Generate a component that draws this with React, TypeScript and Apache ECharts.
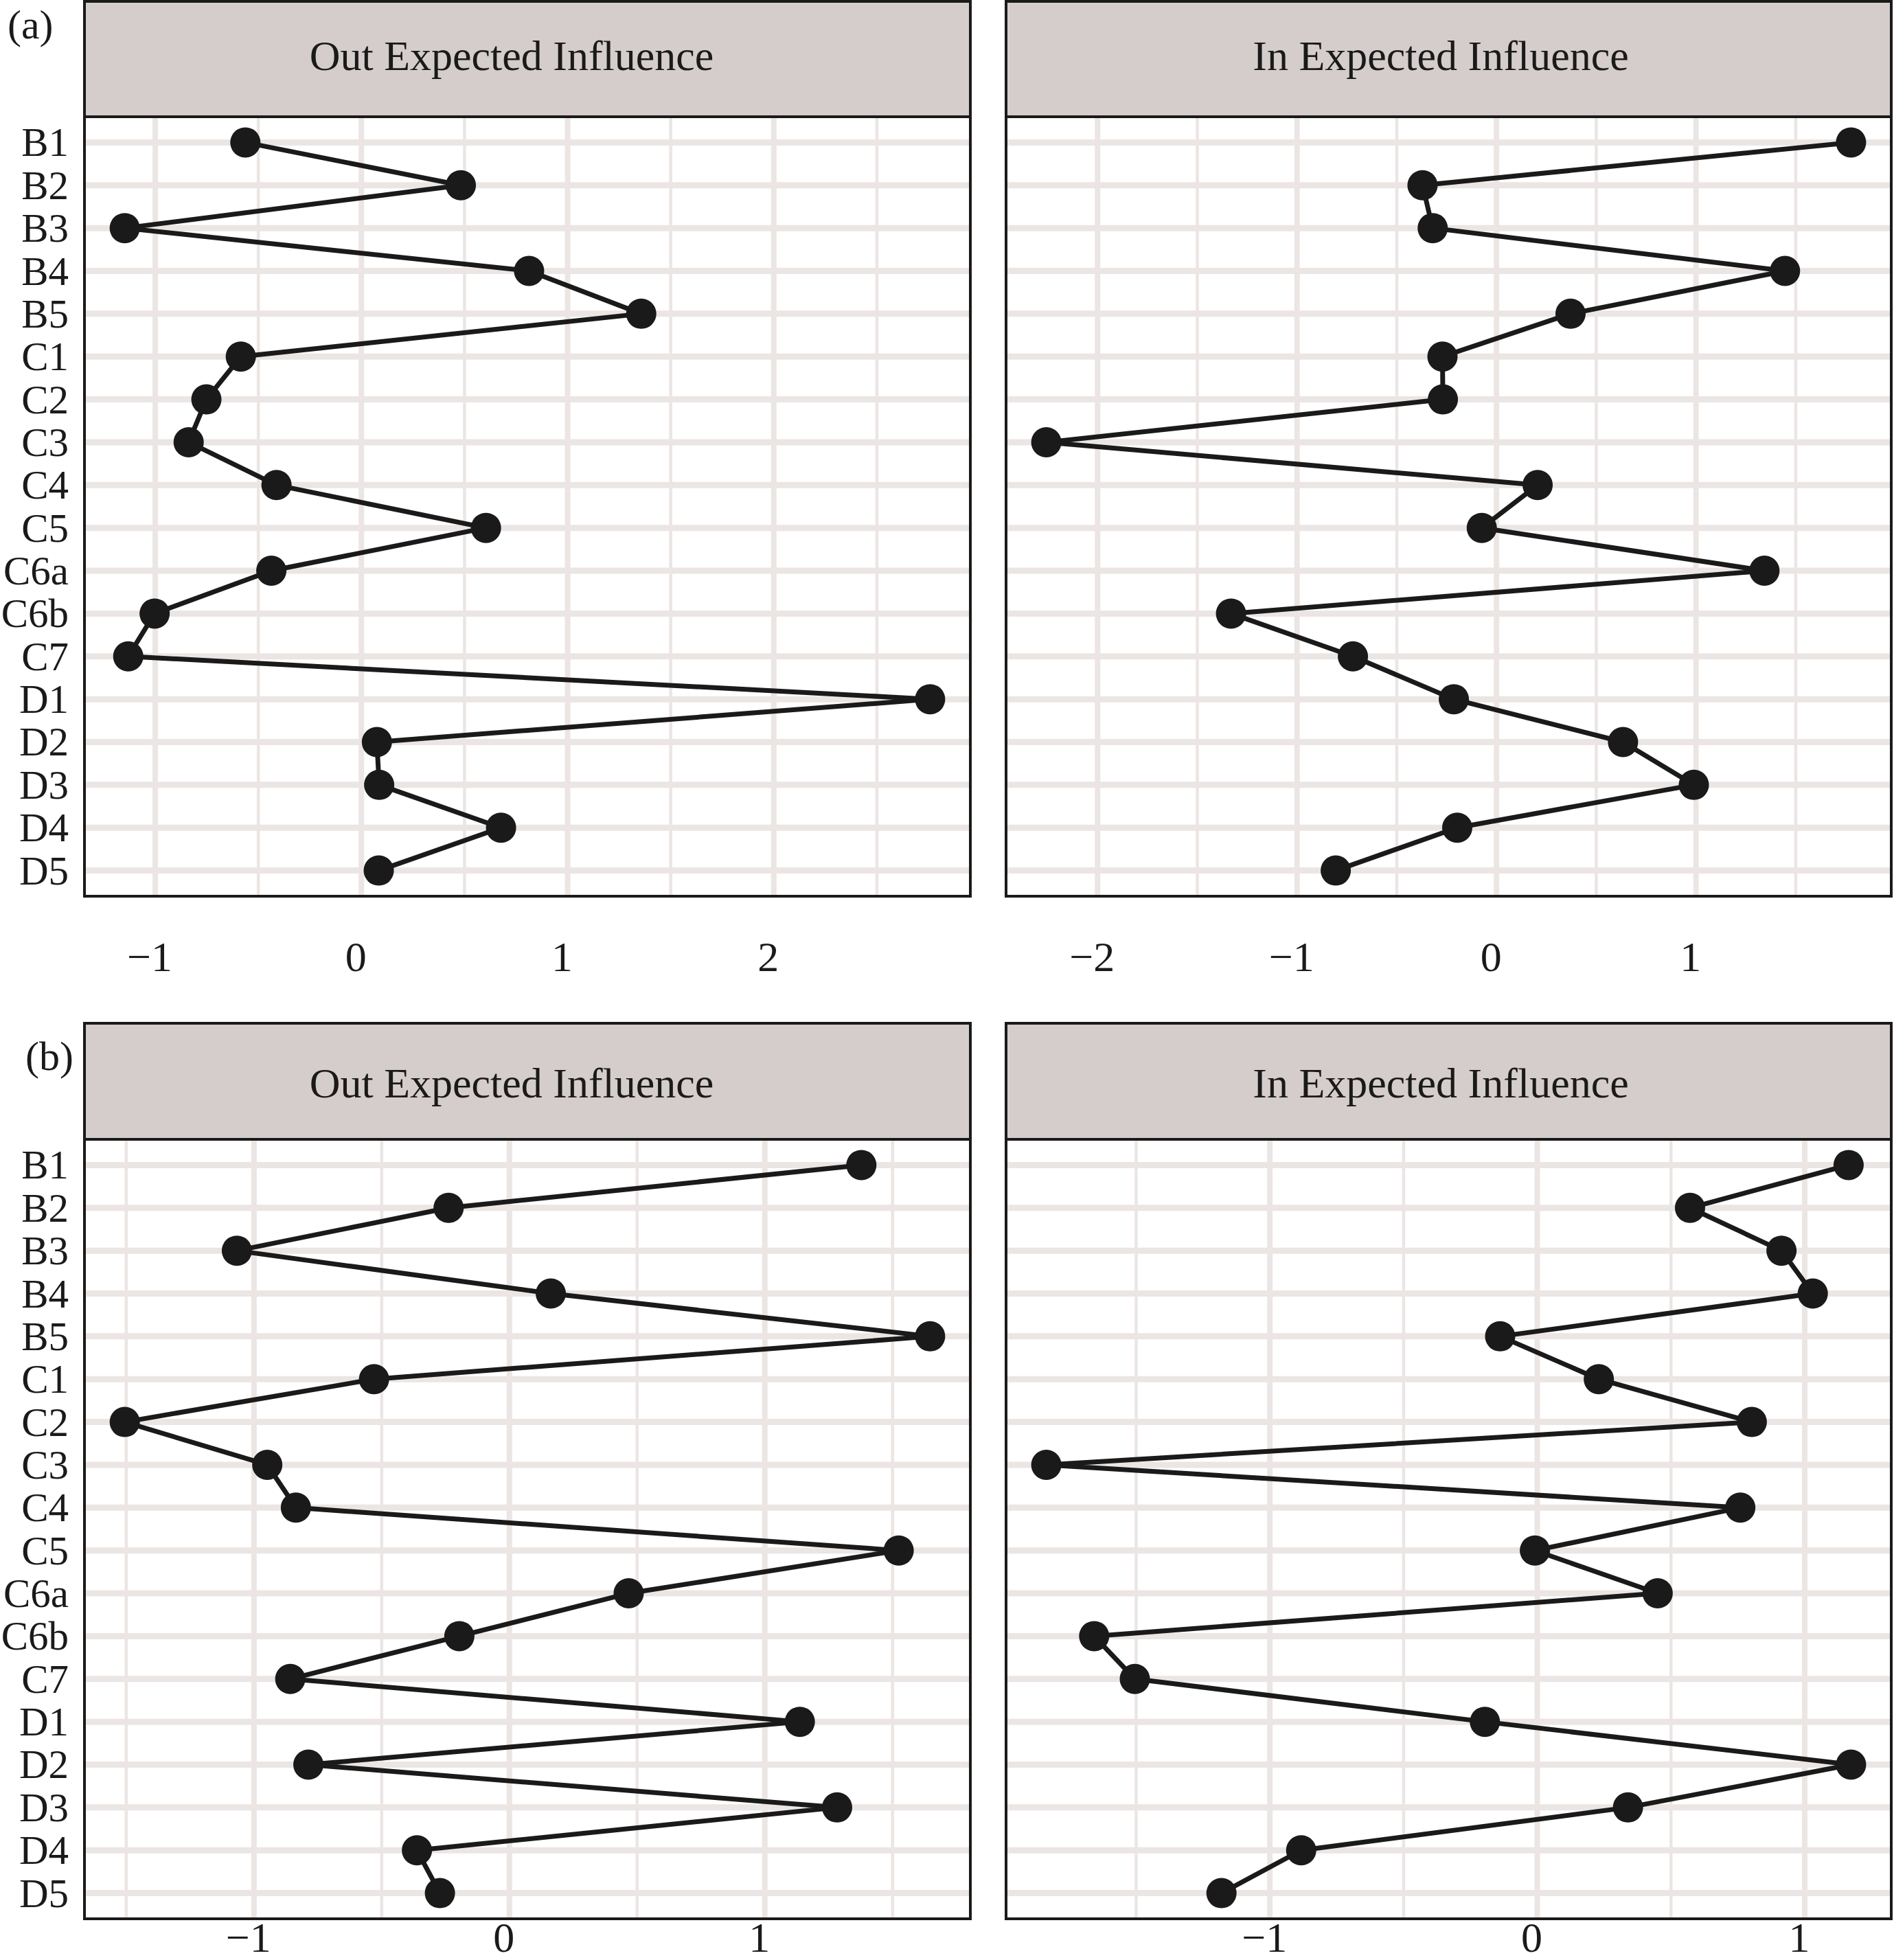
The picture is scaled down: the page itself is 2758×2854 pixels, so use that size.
import React, { useEffect, useRef } from "react";
import * as echarts from "echarts";

// ---------- data ----------
const categories = ["B1", "B2", "B3", "B4", "B5", "C1", "C2", "C3", "C4", "C5", "C6a", "C6b", "C7", "D1", "D2", "D3", "D4", "D5"];

const outExpectedA = [-0.563, 0.482, -1.148, 0.813, 1.357, -0.585, -0.752, -0.838, -0.412, 0.604, -0.437, -1.003, -1.131, 2.758, 0.075, 0.086, 0.677, 0.084];
const inExpectedA = [1.777, -0.371, -0.32, 1.446, 0.371, -0.271, -0.269, -2.257, 0.206, -0.074, 1.343, -1.331, -0.72, -0.214, 0.634, 0.989, -0.197, -0.806];
const outExpectedB = [1.378, -0.238, -1.067, 0.162, 1.647, -0.53, -1.506, -0.948, -0.836, 1.524, 0.467, -0.196, -0.858, 1.137, -0.787, 1.283, -0.362, -0.272];
const inExpectedB = [1.164, 0.571, 0.913, 1.03, -0.139, 0.23, 0.802, -1.836, 0.759, -0.009, 0.45, -1.657, -1.505, -0.196, 1.173, 0.339, -0.883, -1.181];

const ticksOutA = [-1, 0, 1, 2];
const ticksInA = [-2, -1, 0, 1];
const ticksOutB = [-1, 0, 1];
const ticksInB = [-1, 0, 1];

const minorOutA = [-0.5, 0.5, 1.5, 2.5];
const minorInA = [-1.5, -0.5, 0.5, 1.5];
const minorOutB = [-1.5, -0.5, 0.5, 1.5];
const minorInB = [-1.5, -0.5, 0.5];

const stripTitles = ["Out Expected Influence", "In Expected Influence"];
const panelTags = ["(a)", "(b)"];

// ---------- style ----------
const FONT = '"Liberation Serif", "Times New Roman", serif';
const INK = "#1a1a1a";
const GRID_COLOR = "#EBE6E3";
const STRIP_FILL = "#D5CDCB";

const W = 2758;
const H = 2854;

export default function App() {
  const ref = useRef<HTMLDivElement>(null);

  useEffect(() => {
    if (!ref.current) return;
    const chart = echarts.init(ref.current, undefined, { renderer: "svg" });

    const panels = [
      { vals: outExpectedA, ticks: ticksOutA, minor: minorOutA, left: 123, top: 170, width: 1290, labelMargin: 88, isLeft: true },
      { vals: inExpectedA, ticks: ticksInA, minor: minorInA, left: 1465, top: 170, width: 1289, labelMargin: 88, isLeft: false },
      { vals: outExpectedB, ticks: ticksOutB, minor: minorOutB, left: 123, top: 1659, width: 1290, labelMargin: 27, isLeft: true },
      { vals: inExpectedB, ticks: ticksInB, minor: minorInB, left: 1465, top: 1659, width: 1289, labelMargin: 27, isLeft: false },
    ];
    const panelH = 1135;
    const catIdx = categories.map((_, i) => i);

    const grids: any[] = [];
    const xAxes: any[] = [];
    const yAxes: any[] = [];
    const series: any[] = [];
    const graphics: any[] = [];

    panels.forEach((p, gi) => {
      const lo = Math.min(...p.vals);
      const hi = Math.max(...p.vals);
      const pad = (hi - lo) * 0.05;
      grids.push({
        left: p.left,
        top: p.top,
        width: p.width,
        height: panelH,
        containLabel: false,
        outerBoundsMode: "none",
        show: true,
        backgroundColor: "#ffffff",
        borderWidth: 0,
      });
      xAxes.push({
        type: "value",
        gridIndex: gi,
        min: lo - pad,
        max: hi + pad,
        axisLine: { show: false },
        splitLine: { show: false },
        axisTick: {
          show: true,
          inside: true,
          length: 28,
          customValues: p.ticks,
          lineStyle: { color: INK, width: 4 },
        },
        axisLabel: {
          show: true,
          customValues: p.ticks,
          formatter: (v: number) => String(v).replace("-", "\u2212"),
          fontSize: 62,
          fontFamily: FONT,
          color: INK,
          margin: p.labelMargin,
          verticalAlign: "middle",
          padding: [0, 16, 0, 0],
        },
      });
      yAxes.push({
        type: "value",
        gridIndex: gi,
        inverse: true,
        min: -0.6,
        max: categories.length - 1 + 0.6,
        axisLine: { show: false },
        splitLine: { show: false },
        axisTick: {
          show: p.isLeft,
          inside: true,
          length: 28,
          customValues: catIdx,
          lineStyle: { color: INK, width: 4 },
        },
        axisLabel: {
          show: p.isLeft,
          customValues: catIdx,
          formatter: (v: number) => categories[Math.round(v)] ?? "",
          fontSize: 59,
          fontFamily: FONT,
          color: INK,
          margin: 23,
        },
      });

      // vertical grid lines (minor + major)
      const vData = [
        ...p.minor.map((v) => [v, 0, 0]),
        ...p.ticks.map((v) => [v, 0, 1]),
      ];
      series.push({
        type: "custom",
        xAxisIndex: gi,
        yAxisIndex: gi,
        z: 1,
        silent: true,
        data: vData,
        renderItem: (params: any, api: any) => {
          const cs = params.coordSys;
          const x = api.coord([api.value(0), 0])[0];
          const major = api.value(2) === 1;
          return {
            type: "line",
            shape: { x1: x, y1: cs.y, x2: x, y2: cs.y + cs.height },
            style: { stroke: GRID_COLOR, lineWidth: major ? 8 : 4.5 },
          };
        },
      });
      // horizontal grid lines at categories
      series.push({
        type: "custom",
        xAxisIndex: gi,
        yAxisIndex: gi,
        z: 1,
        silent: true,
        data: catIdx.map((i) => [lo, i]),
        renderItem: (params: any, api: any) => {
          const cs = params.coordSys;
          const y = api.coord([api.value(0), api.value(1)])[1];
          return {
            type: "line",
            shape: { x1: cs.x, y1: y, x2: cs.x + cs.width, y2: y },
            style: { stroke: GRID_COLOR, lineWidth: 9 },
          };
        },
      });
      // data line with points
      series.push({
        type: "line",
        xAxisIndex: gi,
        yAxisIndex: gi,
        z: 5,
        clip: false,
        silent: true,
        data: p.vals.map((v, i) => [v, i]),
        symbol: "circle",
        symbolSize: 44,
        showSymbol: true,
        lineStyle: { color: INK, width: 7 },
        itemStyle: { color: INK },
      });

      // panel border
      graphics.push({
        type: "rect",
        z: 100,
        silent: true,
        shape: { x: p.left, y: p.top, width: p.width, height: panelH },
        style: { fill: "none", stroke: INK, lineWidth: 4 },
      });
    });

    // strips
    const stripTops = [2, 1490];
    const stripBottoms = [170, 1659];
    const stripLefts = [123, 1465];
    const stripWidths = [1290, 1289];
    const stripTextX = [745, 2098];
    const stripTextY = [81, 1577];
    stripTops.forEach((t, r) => {
      stripLefts.forEach((l, c) => {
        graphics.push({
          type: "rect",
          z: 90,
          silent: true,
          shape: { x: l, y: t, width: stripWidths[c], height: stripBottoms[r] - t },
          style: { fill: STRIP_FILL, stroke: INK, lineWidth: 4 },
        });
        graphics.push({
          type: "text",
          z: 95,
          silent: true,
          x: stripTextX[c],
          y: stripTextY[r],
          style: {
            text: stripTitles[c],
            fontSize: 62,
            fontFamily: FONT,
            fill: INK,
            align: "center",
            verticalAlign: "middle",
          },
        });
      });
    });

    // panel tags
    const tagX = [11, 37];
    const tagY = [36, 1538];
    panelTags.forEach((tag, r) => {
      graphics.push({
        type: "text",
        z: 95,
        silent: true,
        x: tagX[r],
        y: tagY[r],
        style: {
          text: tag,
          fontSize: 60,
          fontFamily: FONT,
          fill: INK,
          align: "left",
          verticalAlign: "middle",
        },
      });
    });

    chart.setOption({
      animation: false,
      backgroundColor: "#ffffff",
      grid: grids,
      xAxis: xAxes,
      yAxis: yAxes,
      series,
      graphic: { elements: graphics },
    });

    return () => chart.dispose();
  }, []);

  return (
    <div
      ref={ref}
      style={{ position: "absolute", left: 0, top: 0, width: W, height: H }}
    />
  );
}
